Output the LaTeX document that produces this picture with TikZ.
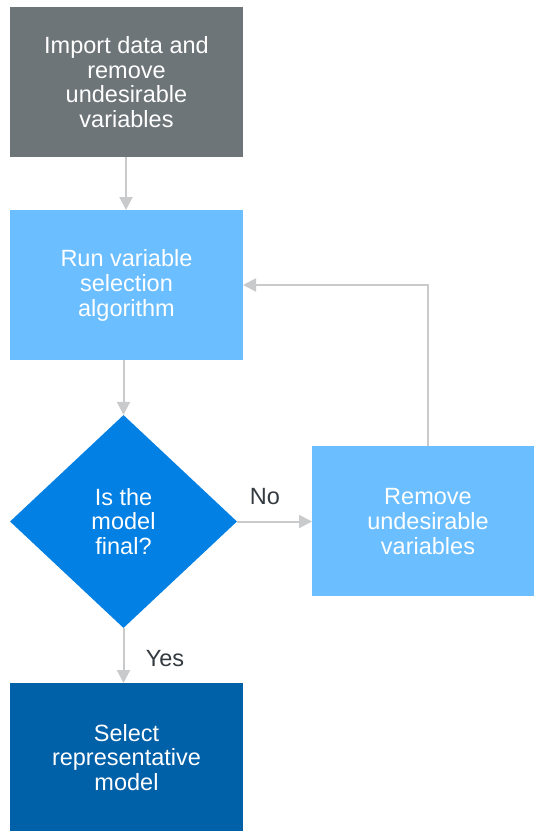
\documentclass[tikz,border=0pt]{standalone}
\usepackage{fontspec}
\setmainfont{Liberation Sans}
\usetikzlibrary{shapes.geometric,arrows.meta}
\definecolor{boxgray}{HTML}{6E7578}
\definecolor{lightblue}{HTML}{6BBEFF}
\definecolor{midblue}{HTML}{0380E3}
\definecolor{darkblue}{HTML}{0060A8}
\definecolor{linegray}{HTML}{C8CACB}
\definecolor{labelgray}{HTML}{333A40}
\tikzset{
  boxnode/.style={rectangle, inner sep=0pt, text=white, align=center,
    font=\fontsize{23.5}{24.6}\selectfont},
  decision/.style={diamond, fill=midblue, inner sep=0pt, text=white, align=center,
    minimum width=227pt, minimum height=213pt, font=\fontsize{23.5}{24.6}\selectfont},
  conn/.style={draw=linegray, line width=2pt, -{Triangle[width=13pt,length=13pt]}},
  lbl/.style={text=labelgray, font=\fontsize{23.5}{24.6}\selectfont, inner sep=0pt}
}
\begin{document}
\begin{tikzpicture}[x=1pt,y=-1pt]
\useasboundingbox (0,0) rectangle (534,831);
\fill[boxgray] (10,7) rectangle (243,157);
\node[boxnode] (import) at (126.5,82) {Import data and\\remove\\undesirable\\variables};
\fill[lightblue] (10,210) rectangle (243,360);
\node[boxnode] (run) at (126.5,285.5) {Run variable\\selection\\algorithm};
\node[decision] (dec) at (123.5,521.5) {Is the\\model\\final?};
\fill[lightblue] (312,446) rectangle (534,596);
\node[boxnode] (remove) at (428,521.5) {Remove\\undesirable\\variables};
\fill[darkblue] (10,683) rectangle (243,831);
\node[boxnode] (select) at (126.5,757.5) {Select\\representative\\model};
\coordinate (importB) at (126,157);
\coordinate (runT) at (126,210);
\coordinate (runB) at (123.5,360);
\coordinate (runR) at (243,285);
\coordinate (remT) at (428,446);
\coordinate (remL) at (312,521.5);
\coordinate (selT) at (123.5,683);
\coordinate (corner) at (428,285);
\draw[conn] (importB) -- (runT);
\draw[conn] (runB) -- (dec.north);
\draw[conn] (dec.east) -- (remL);
\draw[conn] (dec.south) -- (selT);
\draw[conn] (remT) -- (corner) -- (runR);
\node[lbl] (no) at (265,497) {No};
\node[lbl] (yes) at (165,659) {Yes};
\end{tikzpicture}
\end{document}
